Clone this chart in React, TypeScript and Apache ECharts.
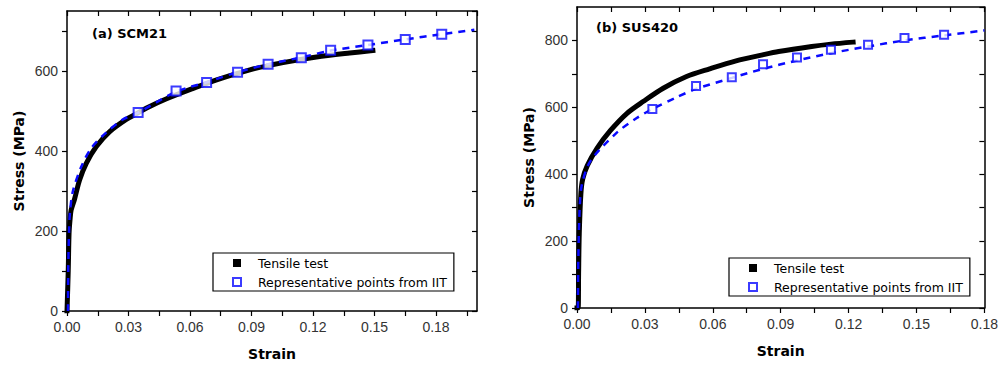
import React, { useEffect, useRef } from "react";
import * as echarts from "echarts";

// ---- (a) SCM21 ----
const scmTensileStrain = [0, 0.0003, 0.0006, 0.001, 0.0015, 0.002, 0.0037, 0.0061, 0.0094, 0.0143, 0.0207, 0.0289, 0.0342, 0.0386, 0.0483, 0.0613, 0.073, 0.0892, 0.1054, 0.1217, 0.1379, 0.1492];
const scmTensileStress = [0, 0, 100, 194, 230, 252, 280, 327, 369, 411, 448, 479, 494, 507, 530, 556, 578, 603, 621, 635, 645, 651];
const scmIitLineStrain = [0.0005, 0.0006, 0.001, 0.0015, 0.0029, 0.007, 0.0118, 0.0191, 0.027, 0.0347, 0.0532, 0.0681, 0.0832, 0.0981, 0.1143, 0.1286, 0.1468, 0.165, 0.1828, 0.1987];
const scmIitLineStress = [0, 100, 200, 250, 300, 361, 407, 446, 478, 496, 548, 572, 597, 617, 634, 651, 665, 679, 692, 703];
const scmIitPtStrain = [0.0347, 0.0532, 0.0681, 0.0832, 0.0981, 0.1143, 0.1286, 0.1468, 0.165, 0.1828];
const scmIitPtStress = [496, 550, 571, 597, 617, 633, 652, 665, 679, 692];

// ---- (b) SUS420 ----
const susTensileStrain = [0, 0.0005, 0.0007, 0.001, 0.0017, 0.0025, 0.0045, 0.0089, 0.0147, 0.0221, 0.0294, 0.0381, 0.0484, 0.0586, 0.0703, 0.082, 0.0891, 0.1037, 0.1122, 0.122];
const susTensileStress = [0, 0, 100, 223, 340, 385, 425, 478, 530, 582, 618, 657, 692, 715, 739, 757, 767, 782, 789, 795];
const susIitLineStrain = [0.0004, 0.0006, 0.0012, 0.0022, 0.006, 0.0177, 0.0264, 0.0333, 0.044, 0.0526, 0.0684, 0.0822, 0.0972, 0.1122, 0.1286, 0.1447, 0.1622, 0.18];
const susIitLineStress = [0, 150, 300, 370, 440, 525, 568, 595, 630, 655, 688, 715, 740, 762, 782, 800, 815, 830];
const susIitPtStrain = [0.0333, 0.0526, 0.0684, 0.0822, 0.0972, 0.1122, 0.1286, 0.1447, 0.1622];
const susIitPtStress = [595, 664, 690, 729, 749, 772, 787, 807, 817];

const xTicks = [0, 0.03, 0.06, 0.09, 0.12, 0.15, 0.18];
const yTicks = [0, 200, 400, 600, 800];

const titles = ["(a) SCM21", "(b) SUS420"];
const TENSILE = "Tensile test";
const IIT = "Representative points from IIT";

const zip = (a: number[], b: number[]) => a.map((v, i) => [v, b[i]]);

const tickFont = { fontFamily: "Liberation Sans, Arial, sans-serif", fontSize: 14, color: "#333" };
const nameFont = { fontFamily: "DejaVu Sans, sans-serif", fontSize: 14, fontWeight: "bold" as const, color: "#000" };
const axisLine = { show: true, onZero: false, lineStyle: { color: "#000", width: 1.5 } };

function xAxis(grid: number, max: number, top: boolean, showMax: boolean) {
  return {
    type: "value",
    gridIndex: grid,
    position: top ? "top" : "bottom",
    min: 0,
    max,
    interval: 0.015,
    axisLine,
    axisTick: { show: true, inside: top, length: 5, lineStyle: { color: "#000", width: 1.2 } },
    axisLabel: top
      ? { show: false }
      : {
          ...tickFont,
          margin: 9,
          showMaxLabel: showMax,
          formatter: (v: number) => {
            const hit = xTicks.find((t) => Math.abs(t - v) < 1e-9);
            return hit === undefined ? "" : hit.toFixed(2);
          },
        },
    splitLine: { show: false },
    name: top ? "" : "Strain",
    nameLocation: "middle",
    nameGap: 36,
    nameTextStyle: nameFont,
  };
}

function yAxis(grid: number, max: number, right: boolean, nameGap: number) {
  return {
    type: "value",
    gridIndex: grid,
    position: right ? "right" : "left",
    min: 0,
    max,
    interval: 100,
    axisLine,
    axisTick: { show: true, inside: right, length: 5, lineStyle: { color: "#000", width: 1.2 } },
    axisLabel: right
      ? { show: false }
      : {
          ...tickFont,
          margin: 9,
          showMaxLabel: false,
          formatter: (v: number) => (yTicks.includes(v) ? String(v) : ""),
        },
    splitLine: { show: false },
    name: right ? "" : "Stress (MPa)",
    nameLocation: "middle",
    nameGap,
    nameTextStyle: nameFont,
  };
}

function seriesFor(grid: number, tS: number[], tV: number[], lS: number[], lV: number[], pS: number[], pV: number[], sym: number) {
  return [
    {
      name: TENSILE,
      type: "line",
      xAxisIndex: grid,
      yAxisIndex: grid,
      data: zip(tS, tV),
      showSymbol: false,
      symbol: "none",
      smooth: 0.3,
      lineStyle: { color: "#000", width: 5, join: "round", cap: "square" },
      itemStyle: { color: "#000" },
      z: 2,
    },
    {
      name: "iit-line",
      type: "line",
      xAxisIndex: grid,
      yAxisIndex: grid,
      data: zip(lS, lV),
      showSymbol: false,
      symbol: "none",
      smooth: 0.3,
      lineStyle: { color: "#0a0aff", width: 2.5, type: [7, 6] },
      z: 3,
    },
    {
      name: IIT,
      type: "scatter",
      xAxisIndex: grid,
      yAxisIndex: grid,
      data: zip(pS, pV),
      symbol: "rect",
      symbolSize: sym,
      itemStyle: { color: "#fff", borderColor: "#0a0aff", borderWidth: 2 },
      z: 4,
    },
  ];
}

function legend(left: number, top: number) {
  return {
    left,
    top,
    orient: "vertical",
    backgroundColor: "#fff",
    borderColor: "#000",
    borderWidth: 1.2,
    padding: [3, 7, 2, 19],
    itemWidth: 8,
    itemHeight: 8,
    itemGap: 5,
    selectedMode: false,
    textStyle: { fontFamily: "DejaVu Sans, sans-serif", fontSize: 12.5, color: "#000", lineHeight: 14, padding: [0, 0, 0, 12] },
    data: [
      { name: TENSILE, icon: "rect", itemStyle: { color: "#000", borderWidth: 0 } },
      { name: IIT, icon: "rect", itemStyle: { color: "#fff", borderColor: "#0a0aff", borderWidth: 2 } },
    ],
  };
}

export default function App() {
  const ref = useRef<HTMLDivElement>(null);
  useEffect(() => {
    if (!ref.current) return;
    const chart = echarts.init(ref.current, null, { renderer: "svg" });
    chart.setOption({
      animation: false,
      backgroundColor: "#fff",
      title: [
        { text: titles[0], left: 92, top: 27, padding: 0, textStyle: { ...nameFont, fontSize: 13 } },
        { text: titles[1], left: 596, top: 21, padding: 0, textStyle: { ...nameFont, fontSize: 13 } },
      ],
      grid: [
        { left: 67, top: 11, width: 410, height: 300 },
        { left: 577, top: 7, width: 410, height: 301 },
      ],
      xAxis: [
        xAxis(0, 0.2, false, false),
        xAxis(1, 0.18, false, true),
        xAxis(0, 0.2, true, false),
        xAxis(1, 0.18, true, false),
      ],
      yAxis: [
        yAxis(0, 750, false, 41),
        yAxis(1, 900, false, 41),
        yAxis(0, 750, true, 0),
        yAxis(1, 900, true, 0),
      ],
      legend: [legend(213, 253), legend(729, 258)],
      series: [
        ...seriesFor(0, scmTensileStrain, scmTensileStress, scmIitLineStrain, scmIitLineStress, scmIitPtStrain, scmIitPtStress, 9),
        ...seriesFor(1, susTensileStrain, susTensileStress, susIitLineStrain, susIitLineStress, susIitPtStrain, susIitPtStress, 8),
      ],
    });
    return () => chart.dispose();
  }, []);
  return <div ref={ref} style={{ position: "fixed", left: 0, top: 0, width: 1001, height: 367 }} />;
}
